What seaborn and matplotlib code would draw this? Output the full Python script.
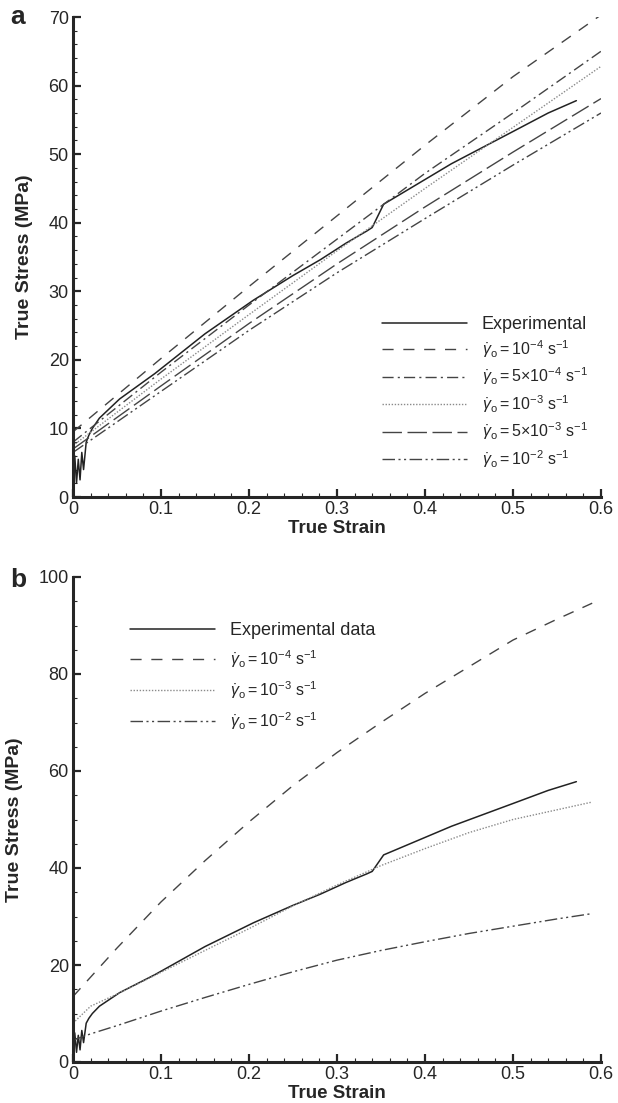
import matplotlib
matplotlib.use("Agg")
import matplotlib.pyplot as plt
from matplotlib.ticker import MultipleLocator
from matplotlib.lines import Line2D
import seaborn as sns

# Experimental curve (same test shown in both panels)
exp_strain = [0.0, 0.002, 0.004, 0.006, 0.008, 0.010, 0.012, 0.015, 0.018, 0.022, 0.03,
              0.053, 0.093, 0.15, 0.205, 0.25, 0.281, 0.31, 0.334, 0.34, 0.353, 0.4,
              0.43, 0.5, 0.54, 0.572]
exp_stress = [1.5, 6.0, 2.0, 5.5, 2.5, 6.5, 4.0, 8.0, 9.0, 10.0, 11.5,
              14.3, 18.0, 23.8, 28.7, 32.3, 34.6, 37.0, 38.8, 39.3, 42.7, 46.3,
              48.6, 53.3, 56.0, 57.8]

# Panel a: model predictions
a_strain = [0.0, 0.1, 0.2, 0.3, 0.4, 0.5, 0.6]
a_1e4 = [9.5, 20.2, 30.7, 41.0, 51.3, 61.3, 70.3]
a_5e4 = [8.0, 18.2, 28.0, 37.6, 47.2, 56.0, 65.0]
a_1e3 = [7.5, 17.2, 26.6, 35.9, 45.0, 53.9, 62.8]
a_5e3 = [7.0, 16.2, 25.3, 34.0, 42.3, 50.3, 58.1]
a_1e2 = [6.5, 15.4, 24.3, 32.7, 40.6, 48.4, 56.0]

# Panel b: model predictions
b_strain = [0.0, 0.02, 0.05, 0.1, 0.15, 0.2, 0.25, 0.3, 0.35, 0.4, 0.45, 0.5, 0.55, 0.59]
b_1e4 = [13.5, 17.5, 23.5, 33.0, 41.5, 49.5, 57.0, 63.8, 70.0, 76.0, 81.5, 87.0, 91.3, 94.6]
b_1e3 = [8.0, 11.5, 14.0, 18.5, 23.0, 27.5, 32.2, 36.5, 40.5, 44.0, 47.3, 50.0, 52.0, 53.6]
b_1e2 = [4.5, 5.8, 7.5, 10.5, 13.3, 16.0, 18.6, 21.0, 23.0, 24.8, 26.5, 28.0, 29.5, 30.6]

labels_a = ["Experimental",
            r"$\dot{\gamma}_\mathrm{o} = \mathrm{10^{-4}\ s^{-1}}$",
            r"$\dot{\gamma}_\mathrm{o} = \mathrm{5{\times}10^{-4}\ s^{-1}}$",
            r"$\dot{\gamma}_\mathrm{o} = \mathrm{10^{-3}\ s^{-1}}$",
            r"$\dot{\gamma}_\mathrm{o} = \mathrm{5{\times}10^{-3}\ s^{-1}}$",
            r"$\dot{\gamma}_\mathrm{o} = \mathrm{10^{-2}\ s^{-1}}$"]
labels_b = ["Experimental data", labels_a[1], labels_a[3], labels_a[5]]

sns.set_style("ticks")
plt.rcParams["font.family"] = ["Liberation Sans", "DejaVu Sans"]
plt.rcParams["mathtext.fontset"] = "custom"
plt.rcParams["mathtext.rm"] = "Liberation Sans"
plt.rcParams["mathtext.it"] = "Liberation Sans:italic"
plt.rcParams["mathtext.bf"] = "Liberation Sans:bold"

# estilos de linha
styles = {
    "exp": dict(color="#222222", lw=1.1, linestyle="-"),
    "1e4": dict(color="#444444", lw=1.0, linestyle=(0, (8, 7))),
    "5e4": dict(color="#444444", lw=1.0, linestyle=(0, (8, 3, 1.5, 3))),
    "1e3": dict(color="#8a8a8a", lw=1.0, linestyle=(0, (1, 1.2))),
    "5e3": dict(color="#444444", lw=1.0, linestyle=(0, (14, 4))),
    "1e2": dict(color="#444444", lw=1.0, linestyle=(0, (9, 2.5, 1.5, 2.5, 1.5, 2.5))),
}

fig = plt.figure(figsize=(6.18, 11.03), dpi=100)
W, H = 618, 1103
ax1 = fig.add_axes([73 / W, 1 - 497 / H, (601 - 73) / W, (497 - 17) / H])
ax2 = fig.add_axes([73 / W, 1 - 1062 / H, (601 - 73) / W, (1062 - 577) / H])


def style_axes(ax, ymax, ymajor, yminor):
    ax.set_xlim(0, 0.6)
    ax.set_ylim(0, ymax)
    ax.xaxis.set_major_locator(MultipleLocator(0.1))
    ax.xaxis.set_minor_locator(MultipleLocator(0.02))
    ax.yaxis.set_major_locator(MultipleLocator(ymajor))
    ax.yaxis.set_minor_locator(MultipleLocator(yminor))
    ax.xaxis.set_major_formatter(lambda v, p: "0" if abs(v) < 1e-9 else f"{v:.1f}")
    for s in ["top", "right"]:
        ax.spines[s].set_visible(False)
    for s in ["left", "bottom"]:
        ax.spines[s].set_linewidth(2.2)
    ax.tick_params(which="major", direction="in", length=6, width=1.6,
                   labelsize=13, pad=3)
    ax.tick_params(which="minor", direction="in", length=3, width=0.8)
    ax.set_xlabel("True Strain", fontsize=13.5, fontweight="bold", labelpad=1)
    ax.set_ylabel("True Stress (MPa)", fontsize=14, fontweight="bold", labelpad=11)


def draw(ax, x, y, key):
    sns.lineplot(x=x, y=y, ax=ax, estimator=None, sort=False, **styles[key])


leg_kw = dict(loc="upper left", frameon=False, fontsize=11.5, handlelength=5.3,
              handletextpad=0.95, borderaxespad=0, borderpad=0)

# Painel a
draw(ax1, exp_strain, exp_stress, "exp")
draw(ax1, a_strain, a_1e4, "1e4")
draw(ax1, a_strain, a_5e4, "5e4")
draw(ax1, a_strain, a_1e3, "1e3")
draw(ax1, a_strain, a_5e3, "5e3")
draw(ax1, a_strain, a_1e2, "1e2")
style_axes(ax1, 70, 10, 2)
keys_a = ["exp", "1e4", "5e4", "1e3", "5e3", "1e2"]
handles_a = [Line2D([], [], **styles[k]) for k in keys_a]
leg_a = ax1.legend(handles_a, labels_a, bbox_to_anchor=(0.585, 0.378),
                   labelspacing=0.36, **leg_kw)
leg_a.get_texts()[0].set_fontsize(13)

# Painel b
draw(ax2, exp_strain, exp_stress, "exp")
draw(ax2, b_strain, b_1e4, "1e4")
draw(ax2, b_strain, b_1e3, "1e3")
draw(ax2, b_strain, b_1e2, "1e2")
style_axes(ax2, 100, 20, 5)
keys_b = ["exp", "1e4", "1e3", "1e2"]
handles_b = [Line2D([], [], **styles[k]) for k in keys_b]
leg_b = ax2.legend(handles_b, labels_b, bbox_to_anchor=(0.108, 0.908),
                   labelspacing=0.58, **leg_kw)
leg_b.get_texts()[0].set_fontsize(13)

fig.text(18 / W, 1 - 17 / H, "a", fontsize=19, fontweight="bold", ha="center", va="center")
fig.text(18 / W, 1 - 580 / H, "b", fontsize=19, fontweight="bold", ha="center", va="center")

fig.savefig("out.png", dpi=100)
